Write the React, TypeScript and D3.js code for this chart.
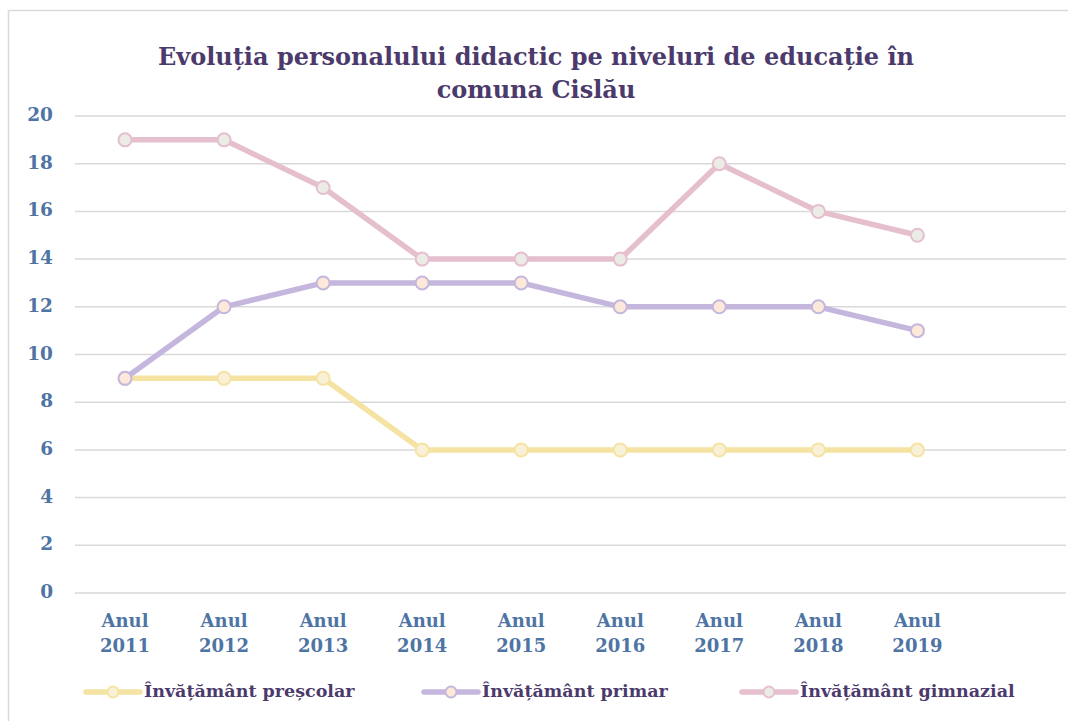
import React from 'react';
import * as d3 from 'd3';

const categories = ['2011', '2012', '2013', '2014', '2015', '2016', '2017', '2018', '2019', ''];
const prescolar = [9, 9, 9, 6, 6, 6, 6, 6, 6];
const primar = [9, 12, 13, 13, 13, 12, 12, 12, 11];
const gimnazial = [19, 19, 17, 14, 14, 14, 18, 16, 15];
const yTicks = [0, 2, 4, 6, 8, 10, 12, 14, 16, 18, 20];

const WIDTH = 1068;
const HEIGHT = 721;
const FONT = '"DejaVu Serif", "Liberation Serif", serif';

const series = [
  { name: 'Învățământ preșcolar', values: prescolar, stroke: '#f5e3a3', fill: '#f8f1d8', legendX: 86 },
  { name: 'Învățământ primar', values: primar, stroke: '#c4b6dc', fill: '#fde9d9', legendX: 424 },
  { name: 'Învățământ gimnazial', values: gimnazial, stroke: '#e5bfcd', fill: '#ececE6', legendX: 742 },
];

const App: React.FC = () => {
  const x = d3.scaleBand<string>().domain(categories.map((c, i) => c + i)).range([75.5, 1066]);
  const y = d3.scaleLinear().domain([0, 20]).range([593, 116]);
  const xc = (i: number) => (x(categories[i] + i) || 0) + x.bandwidth() / 2;

  const line = d3.line<number>()
    .x((_, i) => xc(i))
    .y(d => y(d));

  return (
    <svg width={WIDTH} height={HEIGHT} style={{ position: 'absolute', left: 0, top: 0, background: '#fff' }}>
      <rect x={8.5} y={10.5} width={1080} height={730} fill="#fff" stroke="#d9d9d9" strokeWidth={1.5} />

      <text x={536} y={65} textAnchor="middle" fontFamily={FONT} fontWeight="bold" fontSize={24} fill="#4b3a6b">
        Evoluția personalului didactic pe niveluri de educație în
      </text>
      <text x={536} y={98} textAnchor="middle" fontFamily={FONT} fontWeight="bold" fontSize={24} fill="#4b3a6b">
        comuna Cislău
      </text>

      {yTicks.map(t => (
        <g key={t}>
          <line x1={75} x2={1066} y1={y(t)} y2={y(t)} stroke="#d9d9d9" strokeWidth={1.5} />
          <text x={53} y={y(t)} textAnchor="end" dominantBaseline="middle" fontFamily={FONT} fontWeight="bold" fontSize={18.5} fill="#4e74a4">
            {t}
          </text>
        </g>
      ))}

      {categories.map((c, i) => c && (
        <g key={i}>
          <text x={xc(i)} y={627} textAnchor="middle" fontFamily={FONT} fontWeight="bold" fontSize={18} fill="#4e74a4">Anul</text>
          <text x={xc(i)} y={652} textAnchor="middle" fontFamily={FONT} fontWeight="bold" fontSize={18} fill="#4e74a4">{c}</text>
        </g>
      ))}

      {series.map(s => (
        <g key={s.name}>
          <path d={line(s.values) || ''} fill="none" stroke={s.stroke} strokeWidth={5.5} strokeLinejoin="round" />
          {s.values.map((v, i) => (
            <circle key={i} cx={xc(i)} cy={y(v)} r={6.5} fill={s.fill} stroke={s.stroke} strokeWidth={2} />
          ))}
        </g>
      ))}

      {series.map(s => (
        <g key={'lg' + s.name}>
          <line x1={s.legendX} x2={s.legendX + 54} y1={692} y2={692} stroke={s.stroke} strokeWidth={5.5} strokeLinecap="round" />
          <circle cx={s.legendX + 27} cy={692} r={5.5} fill={s.fill} stroke={s.stroke} strokeWidth={2} />
          <text x={s.legendX + 58} y={692} dominantBaseline="middle" fontFamily={FONT} fontWeight="bold" fontSize={17.5} fill="#4b3a6b">
            {s.name}
          </text>
        </g>
      ))}
    </svg>
  );
};

export default App;
